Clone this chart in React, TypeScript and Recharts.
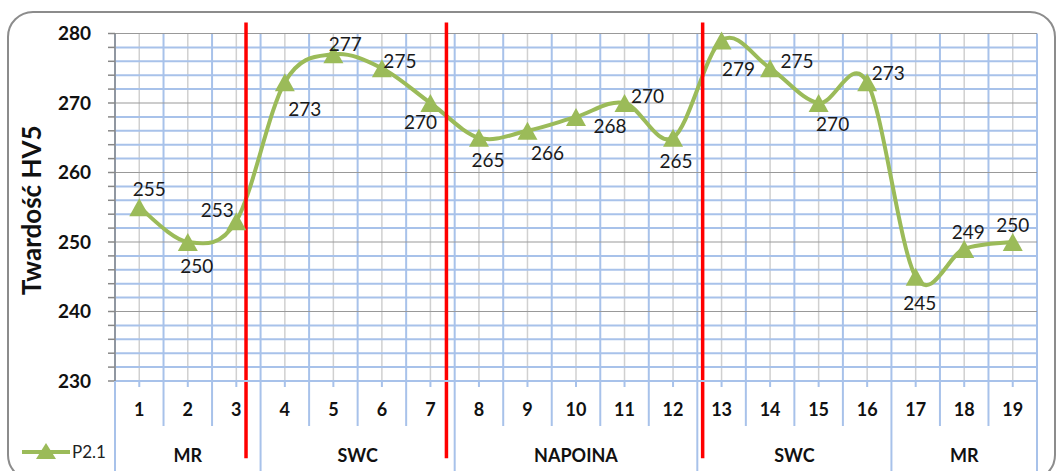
import React from 'react';
import { LineChart, Line, XAxis, YAxis, CartesianGrid, ReferenceLine, Legend } from 'recharts';

// measurement points along the specimen
const CATEGORIES = [1, 2, 3, 4, 5, 6, 7, 8, 9, 10, 11, 12, 13, 14, 15, 16, 17, 18, 19];
const HARDNESS = [255, 250, 253, 273, 277, 275, 270, 265, 266, 268, 270, 265, 279, 275, 270, 273, 245, 249, 250];
const SERIES_NAME = 'P2.1';

// zones of the weld
const GROUP_NAMES = ['MR', 'SWC', 'NAPOINA', 'SWC', 'MR'];
const GROUP_FIRST = [1, 4, 8, 13, 17];
const GROUP_LAST = [3, 7, 12, 16, 19];

// hand drawn zone markers
const ZONE_LINES = [3.2, 7.33, 12.61];

const Y_TICKS = [230, 232, 234, 236, 238, 240, 242, 244, 246, 248, 250, 252, 254, 256, 258, 260, 262, 264, 266, 268, 270, 272, 274, 276, 278, 280];
const Y_MAJOR = [240, 250, 260, 270, 280];
const Y_MINOR = Y_TICKS.filter((t) => !Y_MAJOR.includes(t) && t !== 230);

const GREEN = '#9bbb59';
const GRID_BLUE = '#a8c2ea';
const FONT = 'Lato, "Open Sans", sans-serif';

const data = CATEGORIES.map((c, i) => ({ x: c, v: HARDNESS[i] }));
const bounds = [CATEGORIES[0] - 0.5, ...CATEGORIES.map((c) => c + 0.5)];
const groupBounds = [GROUP_FIRST[0] - 0.5, ...GROUP_LAST.map((l) => l + 0.5)];
const groupCenters = GROUP_FIRST.map((f, i) => (f + GROUP_LAST[i]) / 2);

// where each data label sits relative to its marker (dx, dy)
const LABEL_NUDGE: [number, number][] = [
  [10, -19], [9, 23], [-19, -12], [20, 26], [12, -11], [18, -8], [-10, 18],
  [9, 22], [20, 22], [34, 9], [23, -8], [3, 23], [17, 28], [27, -8],
  [14, 20], [21, -10], [4, 26], [4, -17], [0, -18],
];

// Excel-like smoothed line (catmull-rom through the points)
function excelCurve(context: any) {
  let pts: number[][] = [];
  return {
    areaStart() {},
    areaEnd() {},
    lineStart() {
      pts = [];
    },
    point(x: number, y: number) {
      pts.push([+x, +y]);
    },
    lineEnd() {
      const n = pts.length;
      if (!n) return;
      context.moveTo(pts[0][0], pts[0][1]);
      const t = 1 / 6;
      for (let i = 0; i < n - 1; i++) {
        const p0 = pts[Math.max(i - 1, 0)];
        const p1 = pts[i];
        const p2 = pts[i + 1];
        const p3 = pts[Math.min(i + 2, n - 1)];
        context.bezierCurveTo(
          p1[0] + (p2[0] - p0[0]) * t,
          p1[1] + (p2[1] - p0[1]) * t,
          p2[0] - (p3[0] - p1[0]) * t,
          p2[1] - (p3[1] - p1[1]) * t,
          p2[0],
          p2[1]
        );
      }
    },
  };
}

const Triangle = (props: any) => {
  const { cx, cy } = props;
  if (cx == null || cy == null) return null;
  return <path d={`M${cx},${cy - 9} L${cx + 10},${cy + 9} L${cx - 10},${cy + 9} Z`} fill={GREEN} />;
};

const ValueLabel = (props: any) => {
  const { x, y, value, index } = props;
  const [dx, dy] = LABEL_NUDGE[index] || [0, -15];
  return (
    <text x={x + dx} y={y + dy} textAnchor="middle" dominantBaseline="central" fontFamily={FONT} fontSize={19} fill="#1a1a1a">
      {value}
    </text>
  );
};

const NumberTick = (props: any) => {
  const { x, y, payload } = props;
  const v = payload.value;
  if (!Number.isInteger(v)) {
    return <line x1={x} y1={y} x2={x} y2={y + 45} stroke={GRID_BLUE} strokeWidth={2} />;
  }
  return (
    <g>
      <line x1={x} y1={y} x2={x} y2={y + 6} stroke={GRID_BLUE} strokeWidth={2} />
      <text x={x} y={y + 35} textAnchor="middle" fontFamily={FONT} fontWeight="bold" fontSize={18} fill="#111">
        {v}
      </text>
    </g>
  );
};

const GroupTick = (props: any) => {
  const { x, y, payload } = props;
  const gi = groupCenters.indexOf(payload.value);
  if (gi < 0) {
    return <line x1={x} y1={y} x2={x} y2={y + 45} stroke={GRID_BLUE} strokeWidth={2} />;
  }
  return (
    <text x={x} y={y + 36} textAnchor="middle" fontFamily={FONT} fontWeight="bold" fontSize={18} fill="#111">
      {GROUP_NAMES[gi]}
    </text>
  );
};

const LegendContent = () => (
  <svg width={110} height={26}>
    <line x1={8} y1={12} x2={56} y2={12} stroke={GREEN} strokeWidth={4} />
    <path d="M32,4 L42,20 L22,20 Z" fill={GREEN} transform="translate(0,-1)" />
    <text x={58} y={18} fontFamily={FONT} fontSize={17} fill="#222">
      {SERIES_NAME}
    </text>
  </svg>
);

export default function App() {
  return (
    <div style={{ position: 'absolute', left: 0, top: 0, width: 1061, height: 471, overflow: 'hidden', background: '#fff' }}>
      <div
        style={{
          position: 'absolute',
          left: 7,
          top: 11,
          width: 1049,
          height: 470,
          border: '2px solid #8c8c8c',
          borderRadius: 26,
          boxSizing: 'border-box',
        }}
      />
      <div style={{ position: 'absolute', left: 0, top: 0 }}>
        <LineChart width={1061} height={471} data={data} margin={{ top: 33.5, right: 24, left: 0, bottom: 0 }}>
          <CartesianGrid horizontal={false} verticalValues={CATEGORIES} stroke="#d0d0d0" strokeWidth={1.5} />
          <CartesianGrid horizontalValues={Y_MINOR} verticalValues={bounds} stroke={GRID_BLUE} strokeWidth={2} />
          <CartesianGrid vertical={false} horizontalValues={Y_MAJOR} stroke="#999" strokeWidth={1.2} />
          <XAxis
            dataKey="x"
            type="number"
            domain={[0.5, 19.5]}
            allowDataOverflow
            ticks={[...bounds, ...CATEGORIES].sort((a, b) => a - b)}
            interval={0}
            height={45}
            tickSize={0}
            tickMargin={0}
            tickLine={false}
            axisLine={{ stroke: GRID_BLUE, strokeWidth: 2 }}
            tick={<NumberTick />}
          />
          <XAxis
            xAxisId="grp"
            dataKey="x"
            type="number"
            domain={[0.5, 19.5]}
            allowDataOverflow
            ticks={[...groupBounds, ...groupCenters].sort((a, b) => a - b)}
            interval={0}
            height={45}
            tickSize={0}
            tickMargin={0}
            tickLine={false}
            axisLine={false}
            tick={<GroupTick />}
          />
          <YAxis
            type="number"
            domain={[230, 280]}
            ticks={Y_TICKS}
            interval={0}
            width={115}
            tickSize={7}
            tickMargin={17}
            tickFormatter={(v: number) => (v % 10 === 0 ? String(v) : '')}
            axisLine={{ stroke: '#888', strokeWidth: 1.5 }}
            tickLine={{ stroke: '#888', strokeWidth: 1.5 }}
            tick={{ fill: '#111', fontFamily: FONT, fontWeight: 'bold', fontSize: 19 }}
            label={{
              content: ({ viewBox }: any) => (
                <text
                  x={viewBox.x + 31}
                  y={viewBox.y + viewBox.height / 2 + 3}
                  transform={`rotate(-90, ${viewBox.x + 31}, ${viewBox.y + viewBox.height / 2 + 3})`}
                  textAnchor="middle"
                  dominantBaseline="central"
                  fontFamily={FONT}
                  fontWeight="bold"
                  fontSize={26}
                  fill="#111"
                >
                  Twardość HV5
                </text>
              ),
            }}
          />
          <Legend
            layout="horizontal"
            verticalAlign="middle"
            align="center"
            wrapperStyle={{ position: 'absolute', left: 14, top: 440, width: 110, height: 26 }}
            content={<LegendContent />}
          />
          <Line
            dataKey="v"
            name={SERIES_NAME}
            type={excelCurve as any}
            stroke={GREEN}
            strokeWidth={4}
            dot={<Triangle />}
            activeDot={false}
            label={<ValueLabel />}
            isAnimationActive={false}
          />
          {ZONE_LINES.map((z) => (
            <ReferenceLine
              key={z}
              segment={[
                { x: z, y: 281.6 },
                { x: z, y: 218.9 },
              ]}
              ifOverflow="visible"
              stroke="#ff0000"
              strokeWidth={3.5}
              zIndex={450}
            />
          ))}
        </LineChart>
      </div>
    </div>
  );
}
